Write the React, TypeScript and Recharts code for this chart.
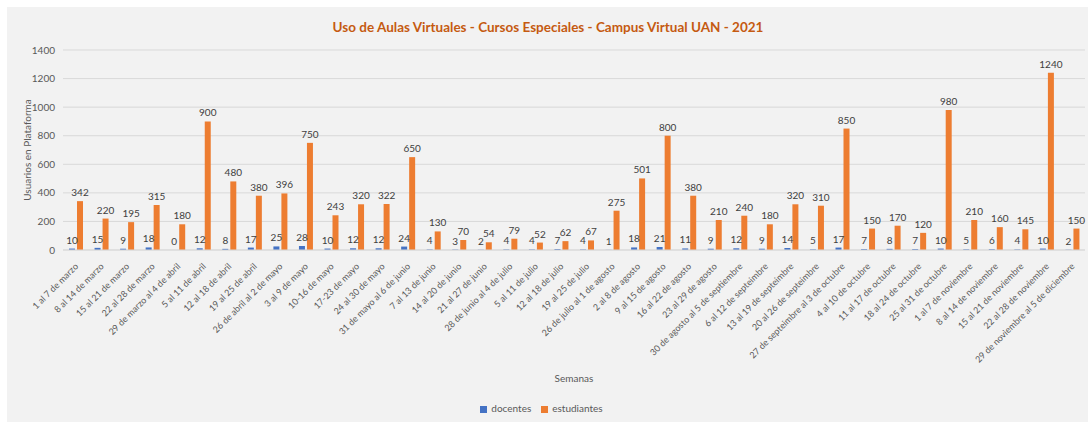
import { Bar, BarChart, CartesianGrid, LabelList, Legend, XAxis, YAxis } from 'recharts';

const weeks = [
  '1 al 7 de marzo',
  '8 al 14 de marzo',
  '15 al 21 de marzo',
  '22 al 28 de marzo',
  '29 de marzo al 4 de abril',
  '5 al 11 de abril',
  '12 al 18 de abril',
  '19 al 25 de abril',
  '26 de abril al 2 de mayo',
  '3 al 9 de mayo',
  '10-16 de mayo',
  '17-23 de mayo',
  '24 al 30 de mayo',
  '31 de mayo al 6 de junio',
  '7 al 13 de junio',
  '14 al 20 de junio',
  '21 al 27 de junio',
  '28 de junio al 4 de julio',
  '5 al 11 de julio',
  '12 al 18 de julio',
  '19 al 25 de julio',
  '26 de julio al 1 de agosto',
  '2 al 8 de agosto',
  '9 al 15 de agosto',
  '16 al 22 de agosto',
  '23 al 29 de agosto',
  '30 de agosto al 5 de septiembre',
  '6 al 12 de septeimbre',
  '13 al 19 de septeimbre',
  '20 al 26 de septeimbre',
  '27 de septeimbre al 3 de octubre',
  '4 al 10 de octubre',
  '11 al 17 de octubre',
  '18 al 24 de octubre',
  '25 al 31 de octubre',
  '1 al 7 de noviembre',
  '8 al 14 de noviembre',
  '15 al 21 de noviembre',
  '22 al 28 de noviembre',
  '29 de noviembre al 5 de diciembre',
];

const docentes = [
  10, 15, 9, 18, 0, 12, 8, 17, 25, 28, 10, 12, 12, 24, 4, 3, 2, 4, 4, 7,
  4, 1, 18, 21, 11, 9, 12, 9, 14, 5, 17, 7, 8, 7, 10, 5, 6, 4, 10, 2,
];

const estudiantes = [
  342, 220, 195, 315, 180, 900, 480, 380, 396, 750, 243, 320, 322, 650, 130, 70, 54, 79, 52, 62,
  67, 275, 501, 800, 380, 210, 240, 180, 320, 310, 850, 150, 170, 120, 980, 210, 160, 145, 1240, 150,
];

const yTicks = [0, 200, 400, 600, 800, 1000, 1200, 1400];

const data = weeks.map((week, i) => ({
  week,
  docentes: docentes[i],
  estudiantes: estudiantes[i],
}));

const FONT = 'Lato, "Open Sans", sans-serif';

function WeekTick({ x, y, payload }: any) {
  return (
    <text
      x={0}
      y={0}
      transform={`translate(${x + 3},${y + 9}) rotate(-45)`}
      textAnchor="end"
      fontSize={9}
      fill="#595959"
    >
      {payload.value}
    </text>
  );
}

export default function App() {
  return (
    <div
      style={{
        position: 'relative',
        width: 1088,
        height: 422,
        background: '#ffffff',
        fontFamily: FONT,
        overflow: 'hidden',
      }}
    >
      <style>{'body{margin:0;overflow:hidden}'}</style>
      <div
        style={{
          position: 'absolute',
          left: 7,
          top: 7,
          right: 0,
          bottom: 0,
          background: '#f2f2f2',
        }}
      />
      <div
        style={{
          position: 'absolute',
          top: 18,
          left: 0,
          width: 1096,
          textAlign: 'center',
          fontSize: 13.5,
          lineHeight: '18px',
          fontWeight: 700,
          color: '#c55a11',
        }}
      >
        Uso de Aulas Virtuales - Cursos Especiales - Campus Virtual UAN - 2021
      </div>
      <div style={{ position: 'absolute', left: 8, top: 8 }}>
        <BarChart
          width={1080}
          height={414}
          data={data}
          margin={{ top: 42, right: 3, left: 0, bottom: 7 }}
          barSize={6}
          barGap={2}
        >
          <CartesianGrid stroke="#d9d9d9" vertical={false} />
          <XAxis
            dataKey="week"
            interval={0}
            height={151}
            tick={<WeekTick />}
            tickLine={false}
            axisLine={{ stroke: '#d9d9d9' }}
            label={{
              content: ({ viewBox }: any) => (
                <text
                  x={viewBox.x + viewBox.width / 2}
                  y={374}
                  textAnchor="middle"
                  fontSize={10}
                  fill="#595959"
                >
                  Semanas
                </text>
              ),
            }}
          />
          <YAxis
            domain={[0, 1400]}
            ticks={yTicks}
            width={55}
            tickLine={false}
            axisLine={false}
            tick={{ fontSize: 10, fill: '#595959' }}
            label={{
              content: ({ viewBox }: any) => {
                const cx = viewBox.x + 19;
                const cy = viewBox.y + viewBox.height / 2;
                return (
                  <text
                    x={cx}
                    y={cy}
                    transform={`rotate(-90, ${cx}, ${cy})`}
                    textAnchor="middle"
                    dominantBaseline="central"
                    fontSize={10}
                    fill="#595959"
                  >
                    Usuarios en Plataforma
                  </text>
                );
              },
            }}
          />
          <Legend
            verticalAlign="bottom"
            iconType="square"
            iconSize={7}
            wrapperStyle={{ fontSize: 10, lineHeight: '14px' }}
            formatter={(value) => <span style={{ color: '#595959' }}>{value}</span>}
          />
          <Bar
            dataKey="docentes"
            name="docentes"
            fill="#4472c4"
            minPointSize={(value: number) => (value === 0 ? 0.01 : 0)}
            isAnimationActive={false}
          >
            <LabelList dataKey="docentes" position="top" fontSize={10} fill="#404040" />
          </Bar>
          <Bar dataKey="estudiantes" name="estudiantes" fill="#ed7d31" isAnimationActive={false}>
            <LabelList dataKey="estudiantes" position="top" fontSize={10} fill="#404040" />
          </Bar>
        </BarChart>
      </div>
    </div>
  );
}
